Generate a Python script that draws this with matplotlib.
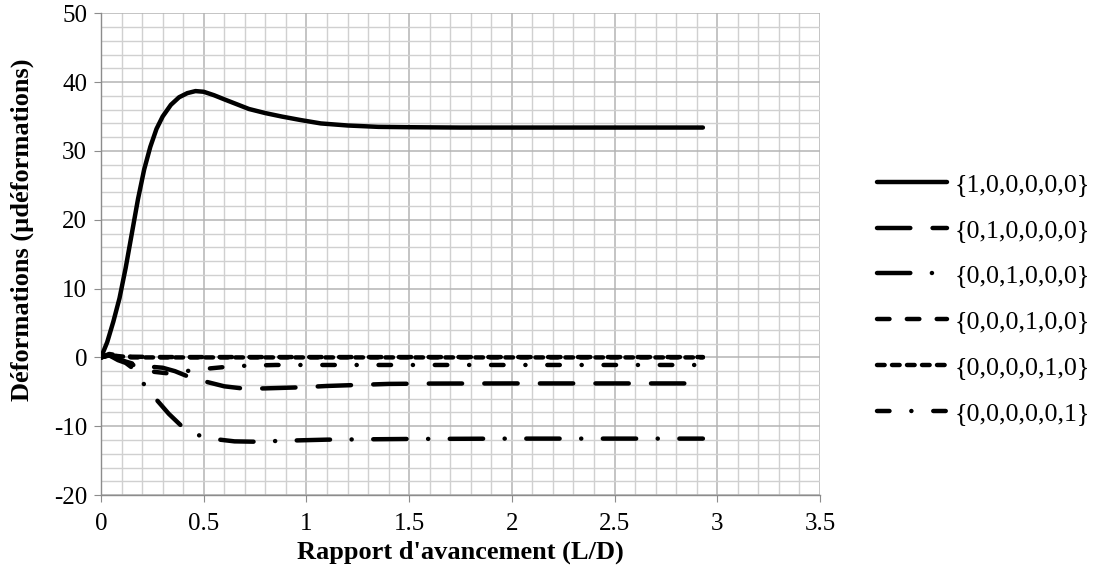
import numpy as np
import matplotlib
matplotlib.use("Agg")
import matplotlib.pyplot as plt
from matplotlib.ticker import MultipleLocator

plt.rcParams['font.family'] = ['Liberation Serif', 'DejaVu Serif']
plt.rcParams['lines.scale_dashes'] = False
plt.rcParams['axes.unicode_minus'] = False

# courbes de déformation en fonction du rapport d'avancement
x_100000 = [0, 0.03, 0.06, 0.09, 0.12, 0.15, 0.18, 0.21, 0.24, 0.27, 0.30, 0.34, 0.38,
            0.42, 0.46, 0.50, 0.55, 0.60, 0.66, 0.72, 0.80, 0.88, 0.97, 1.07, 1.2,
            1.35, 1.5, 1.75, 2.0, 2.5, 2.93]
y_100000 = [0, 2.2, 5.2, 8.6, 13.0, 18.0, 23.0, 27.3, 30.6, 33.2, 35.0, 36.7, 37.8,
            38.4, 38.7, 38.6, 38.1, 37.5, 36.8, 36.1, 35.5, 35.0, 34.5, 34.0, 33.7,
            33.5, 33.45, 33.4, 33.4, 33.4, 33.4]

x_010000 = [0, 0.04, 0.08, 0.12, 0.165, 0.22, 0.30, 0.36, 0.43, 0.52, 0.60, 0.70,
            0.80, 0.97, 1.1, 1.25, 1.4, 1.6, 2.0, 2.5, 2.93]
y_010000 = [0, 0.4, -0.2, -0.6, -1.0, -1.3, -1.5, -2.0, -2.85, -3.6, -4.2, -4.55,
            -4.5, -4.35, -4.15, -4.0, -3.85, -3.8, -3.78, -3.78, -3.78]

x_001000 = [0, 0.04, 0.083, 0.12, 0.165, 0.204, 0.263, 0.33, 0.393, 0.474, 0.563,
            0.65, 0.75, 0.9, 1.1, 1.5, 2.0, 2.5, 2.93]
y_001000 = [0, 0.3, -0.4, -0.8, -1.8, -3.7, -5.9, -8.2, -10.0, -11.3, -11.9,
            -12.2, -12.25, -12.1, -11.95, -11.85, -11.8, -11.8, -11.8]

x_000100 = [0, 0.04, 0.08, 0.15, 0.3, 1.0, 2.0, 2.93]
y_000100 = [0, 0.5, 0.3, 0.1, 0.05, 0.05, 0.05, 0.05]

x_000010 = [0, 0.04, 0.08, 0.15, 0.3, 1.0, 2.0, 2.93]
y_000010 = [0, 0.4, 0.2, 0.0, 0.0, 0.0, 0.0, 0.0]

x_000001 = [0, 0.04, 0.08, 0.14, 0.2, 0.26, 0.32, 0.38, 0.44, 0.53, 0.6, 0.71,
            0.85, 1.0, 2.0, 2.93]
y_000001 = [0, 0.3, -0.1, -0.9, -1.6, -2.1, -2.3, -2.1, -1.9, -1.6, -1.4, -1.2,
            -1.1, -1.1, -1.1, -1.1]

labels = ['{1,0,0,0,0,0}', '{0,1,0,0,0,0}', '{0,0,1,0,0,0}',
          '{0,0,0,1,0,0}', '{0,0,0,0,1,0}', '{0,0,0,0,0,1}']
x_ticks = ['0', '0.5', '1', '1.5', '2', '2.5', '3', '3.5']

series = [(x_100000, y_100000), (x_010000, y_010000), (x_001000, y_001000),
          (x_000100, y_000100), (x_000010, y_000010), (x_000001, y_000001)]
styles = ['-', (0, (24, 16)), (0, (24, 15.5, 0.1, 15.5)),
          (0, (9, 12.5)), (0, (5.5, 5.3)), (0, (9, 15.7, 0.1, 15.7))]

fig = plt.figure(figsize=(10.98, 5.79), dpi=100)
ax = fig.add_axes([0.092, 0.145, 0.7468 - 0.092, 0.977 - 0.145])

for (xs, ys), ls, lab in zip(series, styles, labels):
    ax.plot(xs, ys, color='black', lw=3.2, linestyle=ls, label=lab,
            dash_capstyle='round', solid_capstyle='round', zorder=3)

ax.set_xlim(0, 3.5)
ax.set_ylim(-20, 50)
ax.xaxis.set_major_locator(MultipleLocator(0.5))
ax.xaxis.set_minor_locator(MultipleLocator(0.1))
ax.yaxis.set_major_locator(MultipleLocator(10))
ax.yaxis.set_minor_locator(MultipleLocator(2))
ax.set_xticks(np.arange(0, 3.51, 0.5))
ax.set_xticklabels(x_ticks)

ax.grid(which='major', color='#b4b4b4', lw=1.1, zorder=0)
ax.grid(which='minor', color='#d0d0d0', lw=1.0, zorder=0)
ax.set_axisbelow(True)

for s in ['top', 'right']:
    ax.spines[s].set_visible(False)
for s in ['left', 'bottom']:
    ax.spines[s].set_color('#8c8c8c')
    ax.spines[s].set_linewidth(1.0)

ax.tick_params(which='major', direction='out', length=5, color='#8c8c8c',
               labelsize=18)
ax.tick_params(axis='x', pad=8)
ax.tick_params(axis='y', pad=5)
ax.tick_params(which='minor', length=0)

ax.set_xlabel("Rapport d'avancement (L/D)", fontsize=19, fontweight='bold', labelpad=4)
ax.set_ylabel('Déformations (µdéformations)', fontsize=19, fontweight='bold')
ax.yaxis.set_label_coords(-0.093, 0.55)

fig.legend(loc='center left', bbox_to_anchor=(0.799, 0.484), frameon=False,
           fontsize=18.7, handlelength=2.7, handletextpad=0.27, labelspacing=0.87,
           borderpad=0, borderaxespad=0)

fig.savefig('out.png', dpi=100)
